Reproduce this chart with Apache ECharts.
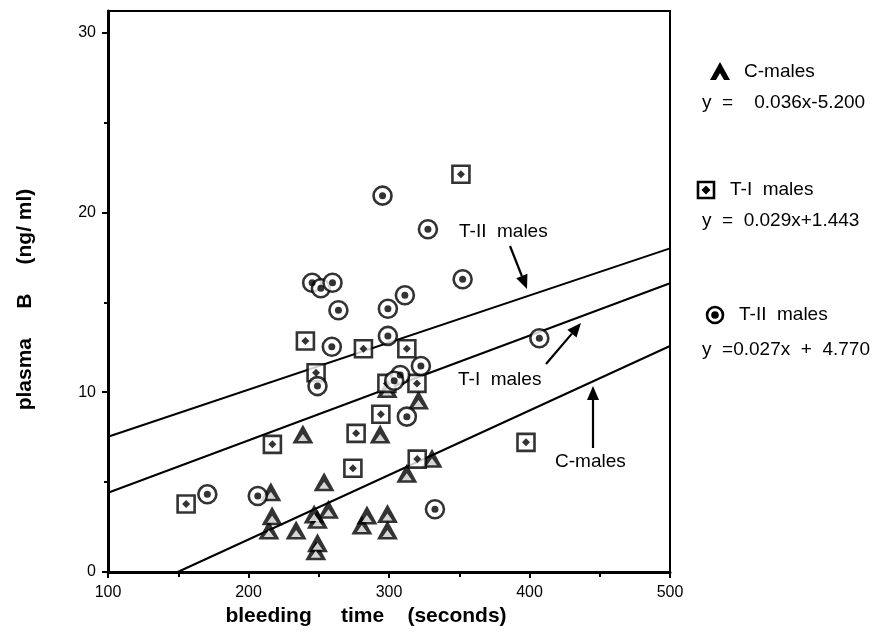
<!DOCTYPE html>
<html>
<head>
<meta charset="utf-8">
<script src="https://cdn.jsdelivr.net/npm/echarts@6/dist/echarts.min.js"></script>
<style>html,body{margin:0;padding:0;background:#fff}#c{width:878px;height:632px}</style>
</head>
<body>
<div id="c"></div>
<script>
// ---- data ----
const xTicks = [100, 200, 300, 400, 500];
const yTicks = [0, 10, 20, 30];
const yMinorTicks = [5, 15, 25];

// C-males (triangles): [bleeding time (s), plasma B (ng/ml)]
const cMales = [
  [238.7, 7.68], [215.9, 4.47], [216.8, 3.13], [214.5, 2.34], [233.9, 2.34],
  [253.8, 5.02], [246.7, 3.23], [249.1, 2.93], [256.9, 3.49], [249.1, 1.63],
  [247.9, 1.18], [284.3, 3.17], [280.7, 2.61], [298.9, 3.26], [298.9, 2.34],
  [293.7, 7.68], [312.7, 5.49], [330.6, 6.32], [321.0, 9.57], [298.7, 10.2]
];
// T-I males (squares)
const tIMales = [
  [248.1, 11.08], [217.0, 7.10], [276.6, 7.71], [294.2, 8.77], [274.3, 5.77],
  [155.6, 3.78], [320.1, 6.28], [298.5, 10.49], [319.9, 10.49], [351.2, 22.12],
  [240.5, 12.85], [281.8, 12.42], [312.7, 12.42], [397.5, 7.21]
];
// T-II males (circles)
const tIIMales = [
  [295.4, 20.93], [327.7, 19.06], [352.4, 16.28], [245.3, 16.09], [251.5, 15.78],
  [259.8, 16.09], [264.0, 14.56], [299.2, 14.64], [311.3, 15.39], [299.2, 13.13],
  [259.3, 12.53], [322.7, 11.46], [308.0, 10.96], [303.7, 10.64], [249.1, 10.34],
  [170.7, 4.32], [206.6, 4.23], [312.7, 8.64], [332.7, 3.49], [407.0, 13.00]
];
// regression line end points as drawn
const cLine = [[149.6, 0], [500, 12.57]];
const tILine = [[100, 4.41], [500, 16.06]];
const tIILine = [[100, 7.52], [500, 18.0]];

const groupNames = ['C-males', 'T-I  males', 'T-II  males'];
const equations = ['y  =    0.036x-5.200', 'y  =  0.029x+1.443', 'y  =0.027x  +  4.770'];
const xTitle = 'bleeding     time    (seconds)';
const yTitle = 'plasma     B     (ng/ ml)';

// ---- chart ----
const FONT = '"Liberation Sans", Arial, Helvetica, sans-serif';
const chart = echarts.init(document.getElementById('c'), null, {renderer: 'canvas'});

function arrow(x1, y1, x2, y2) {
  const ang = Math.atan2(y2 - y1, x2 - x1);
  const L = 14, W = 6;
  const bx = x2 - L * Math.cos(ang), by = y2 - L * Math.sin(ang);
  const px = -Math.sin(ang) * W, py = Math.cos(ang) * W;
  return [
    {type: 'line', shape: {x1: x1, y1: y1, x2: bx, y2: by}, style: {stroke: '#000', lineWidth: 2.2}},
    {type: 'polygon', shape: {points: [[x2, y2], [bx + px, by + py], [bx - px, by - py]]}, style: {fill: '#000'}}
  ];
}
function txt(x, y, s, size) {
  return {type: 'text', x: x, y: y, style: {text: s, font: (size || 19) + 'px ' + FONT, fill: '#000', verticalAlign: 'middle', align: 'left'}};
}

const lineStyleReg = {color: '#000', width: 2};
const outerStyle = {color: '#fff', borderColor: '#000', borderWidth: 2.6};

const option = {
  animation: false,
  backgroundColor: '#fff',
  grid: {left: 108, right: 208, top: 11, bottom: 60, show: true, borderColor: '#000', borderWidth: 2, backgroundColor: 'transparent'},
  xAxis: {
    type: 'value', min: 100, max: 500, interval: 100,
    name: xTitle, nameLocation: 'middle', nameGap: 32,
    nameTextStyle: {fontFamily: FONT, fontWeight: 'bold', fontSize: 21, color: '#000', padding: [0, 46, 0, 0]},
    axisLine: {show: true, onZero: false, lineStyle: {color: '#000', width: 3}},
    axisTick: {show: true, inside: false, length: 6, lineStyle: {color: '#000', width: 2}},
    minorTick: {show: true, splitNumber: 2, length: 5, lineStyle: {color: '#000', width: 2}},
    axisLabel: {fontFamily: FONT, fontSize: 16, color: '#000', margin: 13},
    splitLine: {show: false}
  },
  yAxis: [{
    type: 'value', min: 0, max: 31.2,
    name: yTitle, nameLocation: 'middle', nameGap: 72, nameRotate: 90,
    nameTextStyle: {fontFamily: FONT, fontWeight: 'bold', fontSize: 21, color: '#000', padding: [0, 16, 0, 0]},
    axisLine: {show: true, onZero: false, lineStyle: {color: '#000', width: 3}},
    axisTick: {show: true, length: 6, customValues: yTicks, lineStyle: {color: '#000', width: 2}},
    axisLabel: {fontFamily: FONT, fontSize: 16, color: '#000', margin: 12, customValues: yTicks},
    splitLine: {show: false}
  }, {
    type: 'value', min: 0, max: 31.2, position: 'left',
    axisLine: {show: false},
    axisTick: {show: true, length: 4, customValues: yMinorTicks, lineStyle: {color: '#000', width: 2}},
    axisLabel: {show: false},
    splitLine: {show: false}
  }],
  series: [
    {type: 'line', data: tIILine, symbol: 'none', lineStyle: lineStyleReg, z: 1},
    {type: 'line', data: tILine, symbol: 'none', lineStyle: lineStyleReg, z: 1},
    {type: 'line', data: cLine, symbol: 'none', lineStyle: lineStyleReg, z: 1},
    {type: 'scatter', data: cMales, symbol: 'triangle', symbolSize: [21, 19], itemStyle: {color: '#000'}, z: 2},
    {type: 'scatter', data: cMales, symbol: 'triangle', symbolSize: [10, 7], symbolOffset: [0, 3.5], itemStyle: {color: '#fff'}, z: 3},
    {type: 'scatter', data: tIMales, symbol: 'rect', symbolSize: 17, itemStyle: outerStyle, z: 4},
    {type: 'scatter', data: tIMales, symbol: 'diamond', symbolSize: 8, itemStyle: {color: '#000'}, z: 5},
    {type: 'scatter', data: tIIMales, symbol: 'circle', symbolSize: 18, itemStyle: outerStyle, z: 6},
    {type: 'scatter', data: tIIMales, symbol: 'circle', symbolSize: 7, itemStyle: {color: '#000'}, z: 7}
  ],
  graphic: [].concat(
    // legend
    [{type: 'polygon', shape: {points: [[720, 62], [730, 80], [710, 80]]}, style: {fill: '#000'}},
     {type: 'polygon', shape: {points: [[720, 73], [724, 80], [716, 80]]}, style: {fill: '#fff'}},
     txt(744, 72, groupNames[0]),
     txt(702, 103, equations[0]),
     {type: 'rect', shape: {x: 698, y: 182, width: 16, height: 16}, style: {fill: '#fff', stroke: '#000', lineWidth: 2.6}},
     {type: 'polygon', shape: {points: [[706, 185.5], [710.5, 190], [706, 194.5], [701.5, 190]]}, style: {fill: '#000'}},
     txt(730, 190, groupNames[1]),
     txt(702, 221, equations[1]),
     {type: 'circle', shape: {cx: 715, cy: 315, r: 8}, style: {fill: '#fff', stroke: '#000', lineWidth: 2.6}},
     {type: 'circle', shape: {cx: 715, cy: 315, r: 3.8}, style: {fill: '#000'}},
     txt(739, 315, groupNames[2]),
     txt(702, 350, equations[2]),
     // in-plot labels
     txt(459, 232, 'T-II  males'),
     txt(458, 380, 'T-I  males'),
     txt(555, 462, 'C-males')],
    arrow(510, 246, 527, 289),
    arrow(546, 364, 581, 323),
    arrow(593, 448, 593, 386)
  )
};
chart.setOption(option);
</script>
</body>
</html>
